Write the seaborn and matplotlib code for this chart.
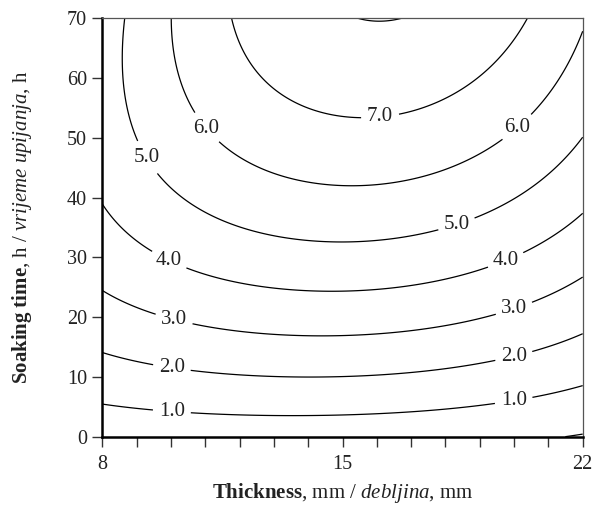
import numpy as np
import matplotlib
matplotlib.use("Agg")
import matplotlib.pyplot as plt
import seaborn as sns

# Contour crossing points (thickness mm, soaking time h)
lvl0_x = [21.3, 22.0]
lvl0_y = [0.0, 0.57]
lvl1_x = [8.0, 9.48, 10.6, 13.47, 14.92, 19.39, 20.51, 22.0]
lvl1_y = [5.47, 4.58, 4.07, 3.51, 3.51, 5.42, 6.42, 8.48]
lvl2_x = [8.0, 9.53, 10.6, 13.08, 14.92, 19.44, 20.51, 22.0]
lvl2_y = [14.05, 12.0, 11.04, 10.04, 10.04, 12.67, 14.2, 17.18]
lvl3_x = [8.0, 9.53, 10.65, 13.66, 14.92, 19.39, 20.46, 22.0]
lvl3_y = [24.26, 20.5, 18.8, 16.9, 16.85, 20.36, 22.42, 26.67]
lvl4_x = [8.0, 9.38, 10.5, 14.63, 19.0, 20.27, 22.0]
lvl4_y = [38.77, 31.07, 28.2, 24.26, 28.1, 30.95, 37.4]
lvl5_x = [8.68, 8.61, 9.03, 9.58, 10.26, 12.2, 14.92, 17.65, 18.81, 19.98, 21.53, 22.0]
lvl5_y = [70.0, 59.7, 49.6, 44.07, 40.15, 35.7, 32.55, 34.6, 36.4, 39.6, 46.3, 50.2]
lvl6_x = [10.0, 10.11, 10.73, 11.43, 12.1, 15.12, 18.13, 19.0, 19.44, 20.46, 22.0]
lvl6_y = [70.0, 61.9, 54.1, 49.0, 46.4, 41.94, 45.2, 47.7, 48.9, 53.6, 68.0]
lvl7_x = [11.77, 12.5, 13.47, 15.36, 16.48, 18.13, 19.49, 20.37]
lvl7_y = [70.0, 60.2, 56.4, 53.5, 53.5, 56.9, 63.0, 70.0]
lvl8_x = [15.41, 16.04, 16.72]
lvl8_y = [70.0, 69.45, 70.0]

levels = [0, 1, 2, 3, 4, 5, 6, 7, 8]
label_levels = [1, 2, 3, 4, 5, 6, 7]
plain_levels = [0, 8]
label_pos = [(10.03, 4.8), (19.97, 6.7), (10.03, 11.8), (19.97, 14.0),
             (10.11, 20.2), (19.97, 21.9), (9.97, 29.9), (19.73, 29.9),
             (9.47, 47.3), (18.28, 36.3), (11.05, 51.8), (20.1, 51.7),
             (16.09, 53.8)]

xticks = [8, 15, 22]
yticks = [0, 10, 20, 30, 40, 50, 60, 70]

# ---- response surface fitted to the read crossing points ----
pts_x, pts_y, pts_z = [], [], []
for lv, xs, ys in zip(levels,
                      [lvl0_x, lvl1_x, lvl2_x, lvl3_x, lvl4_x, lvl5_x, lvl6_x, lvl7_x, lvl8_x],
                      [lvl0_y, lvl1_y, lvl2_y, lvl3_y, lvl4_y, lvl5_y, lvl6_y, lvl7_y, lvl8_y]):
    pts_x += xs
    pts_y += ys
    pts_z += [lv] * len(xs)
pts_x = np.array(pts_x); pts_y = np.array(pts_y); pts_z = np.array(pts_z, float)


def norm(x, y):
    return (x - 15.0) / 7.0, (y - 35.0) / 35.0


terms = [(i, j) for i in range(4) for j in range(4) if i + j <= 3]


def design(x, y):
    u, v = norm(x, y)
    return np.stack([u ** i * v ** j for i, j in terms], axis=-1)


coef, *_ = np.linalg.lstsq(design(pts_x, pts_y), pts_z, rcond=None)

gx = np.linspace(8, 22, 300)
gy = np.linspace(0, 70, 300)
GX, GY = np.meshgrid(gx, gy)
GZ = design(GX, GY) @ coef

# ---- drawing ----
sns.set_style("ticks")
plt.rcParams["font.family"] = ["Liberation Serif", "DejaVu Serif"]
plt.rcParams["mathtext.fontset"] = "custom"
plt.rcParams["mathtext.rm"] = "Liberation Serif"
plt.rcParams["mathtext.it"] = "Liberation Serif:italic"
plt.rcParams["mathtext.bf"] = "Liberation Serif:bold"

fig = plt.figure(figsize=(5.98, 5.07), dpi=100)
ax = fig.add_axes([0.1714, 0.1387, 0.9744 - 0.1714, 0.9639 - 0.1387])

ax.contour(GX, GY, GZ, levels=plain_levels, colors="black", linewidths=0.9)
cs = ax.contour(GX, GY, GZ, levels=label_levels, colors="black", linewidths=0.9)
texts = ax.clabel(cs, manual=label_pos, fmt="%.1f",
                  fontsize=15, inline=True, inline_spacing=6, colors="#222222")
for t in texts:
    t.set_rotation(0)

ax.set_xlim(8, 22)
ax.set_ylim(0, 70)
ax.set_xticks(xticks)
ax.set_xticks(np.arange(8, 23, 1), minor=True)
ax.set_yticks(yticks)
ax.tick_params(axis="both", which="both", direction="out", length=7, width=1,
               color="#333333", labelsize=14.5, labelcolor="#222222", pad=4)
ax.tick_params(axis="x", pad=6)

for s in ["left", "bottom"]:
    ax.spines[s].set_linewidth(1.8)
    ax.spines[s].set_color("black")
for s in ["top", "right"]:
    ax.spines[s].set_linewidth(0.9)
    ax.spines[s].set_color("#555555")
    ax.spines[s].set_visible(True)

ax.set_xlabel(r"$\mathbf{Thickness}$, mm / $\mathit{debljina}$, mm", fontsize=15,
              labelpad=5, color="#222222")
ax.set_ylabel(r"$\mathbf{Soaking\ time}$, h / $\mathit{vrijeme\ upijanja}$, h",
              fontsize=15, labelpad=24, color="#222222")

fig.savefig("out.png", dpi=100)
